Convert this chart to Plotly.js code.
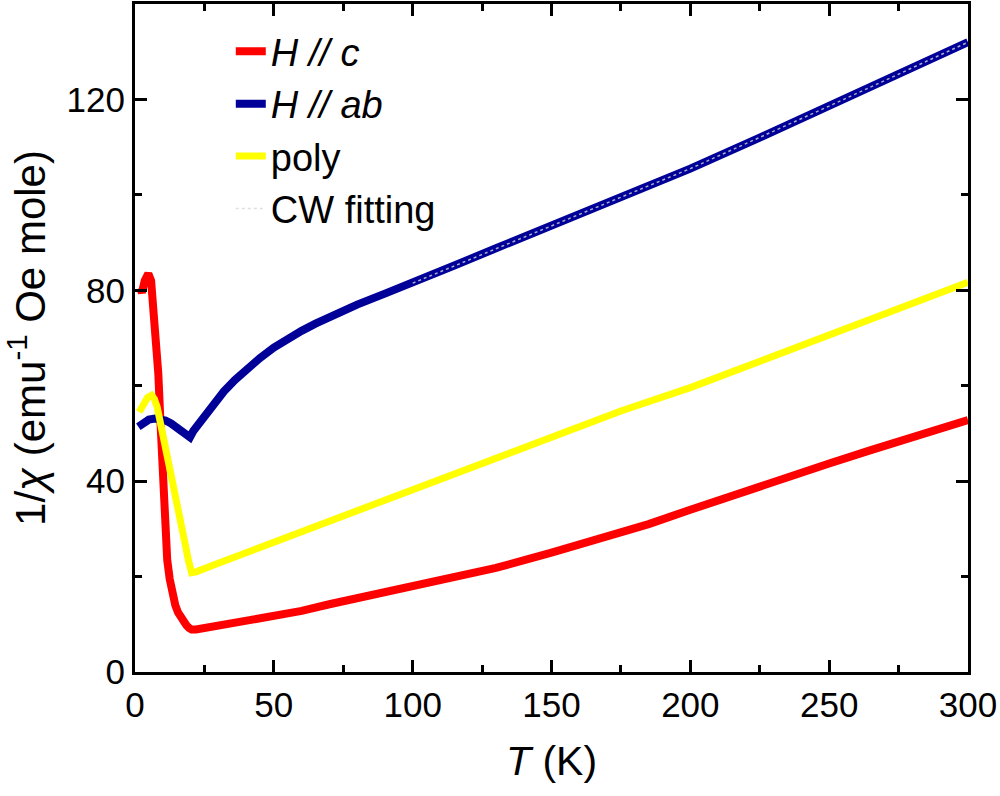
<!DOCTYPE html>
<html>
<head>
<meta charset="utf-8">
<script src="https://cdn.plot.ly/plotly-3.0.1.min.js"></script>
<style>html,body{margin:0;padding:0;background:#fff;}#chart{width:1000px;height:796px;}</style>
</head>
<body>
<div id="chart"></div>
<script>
// H // c
var tC = [1.8, 2.5, 3.5, 4.8, 5.8, 6.6, 7.5, 8.4, 9.2, 10.0, 10.8, 11.6, 12.5, 13.5, 14.5, 15.5, 16.5, 17.5, 18.5, 19.5, 20.4, 22, 25, 30, 40, 50, 60, 70, 80, 90, 100, 115, 130, 150, 170, 185, 200, 215, 230, 250, 265, 280, 290, 300];
var vC = [80.5, 79.5, 82, 83.5, 82, 76.5, 69, 62.5, 52, 40, 30, 23.5, 19.5, 16.2, 14.0, 12.5, 11.4, 10.5, 9.8, 9.2, 8.9, 8.9, 9.2, 9.8, 10.9, 11.8, 12.8, 14.2, 15.4, 16.7, 18.0, 19.8, 21.8, 25.0, 28.3, 31.0, 34.0, 37.0, 40.0, 43.7, 46.5, 49.3, 51.0, 52.8];
// H // ab
var tAB = [1.2, 3, 5, 7.2, 9, 11, 13, 15, 16.5, 18, 19.8, 21, 23, 25, 28, 32, 36, 40, 45, 50, 55, 60, 65, 70, 80, 90, 100, 115, 130, 150, 175, 200, 225, 250, 275, 300];
var vAB = [51.4, 52.3, 52.9, 53.1, 53.0, 52.7, 52.1, 51.3, 50.6, 49.9, 49.2, 50.5, 52.0, 53.5, 56, 58.8, 61.2, 63.4, 65.8, 68.0, 69.9, 71.5, 73.0, 74.4, 77.0, 79.3, 81.5, 85.2, 88.8, 93.5, 99.5, 105.5, 112.0, 118.6, 125.3, 132.0];
// poly
var tP = [1.5, 3, 4.5, 6, 7, 8, 9, 10.5, 12, 13.5, 15, 16.5, 18, 19.2, 20.4, 22, 25, 30, 40, 50, 60, 70, 80, 100, 125, 150, 175, 200, 225, 250, 275, 300];
var vP = [54.5, 56, 57.5, 58, 57.2, 55.5, 52.8, 48.5, 44.5, 40, 35.5, 31.5, 27, 23.5, 20.8, 21.0, 21.6, 22.8, 25.0, 27.2, 29.4, 31.6, 33.8, 38.2, 43.7, 49.2, 54.7, 59.6, 65.1, 70.6, 76.1, 81.7];
// CW fitting
var tCW = [100, 150, 200, 250, 300];
var vCW = [81.5, 93.5, 105.5, 118.6, 132.0];

var FONT = 'Arial, "Liberation Sans", sans-serif';

var traces = [
  {x: tC, y: vC, type: 'scatter', mode: 'lines', name: '<i>H // c</i>', line: {color: '#ff0000', width: 8}},
  {x: tAB, y: vAB, type: 'scatter', mode: 'lines', name: '<i>H // ab</i>', line: {color: '#000099', width: 8}},
  {x: tP, y: vP, type: 'scatter', mode: 'lines', name: 'poly', line: {color: '#ffff00', width: 7}},
  {x: tCW, y: vCW, type: 'scatter', mode: 'lines', name: 'CW fitting', line: {color: 'rgba(215,215,215,0.8)', width: 1.5, dash: 'dot'}}
];

var axisCommon = {
  showline: true, linecolor: '#000', linewidth: 3, mirror: 'allticks',
  ticks: 'inside', ticklen: 12, tickwidth: 3, tickcolor: '#000',
  showgrid: false, zeroline: false,
  tickfont: {family: FONT, size: 35, color: '#000'}
};

var layout = {
  width: 1000, height: 796,
  margin: {l: 135, r: 32, t: 4, b: 124},
  paper_bgcolor: '#fff', plot_bgcolor: '#fff',
  showlegend: true,
  legend: {x: 0.115, y: 0.976, xanchor: 'left', yanchor: 'top', bgcolor: 'rgba(0,0,0,0)',
           font: {family: FONT, size: 38, color: '#000'}, tracegroupgap: 0},
  xaxis: Object.assign({}, axisCommon, {
    range: [0, 300], tickvals: [0, 50, 100, 150, 200, 250, 300],
    minor: {ticks: 'inside', ticklen: 7, tickwidth: 3, tickcolor: '#000', dtick: 25, tick0: 0},
    title: {text: '<i>T</i> (K)', font: {family: FONT, size: 41, color: '#000'}, standoff: 24}
  }),
  yaxis: Object.assign({}, axisCommon, {
    range: [0, 140], tickvals: [0, 40, 80, 120],
    minor: {ticks: 'inside', ticklen: 7, tickwidth: 3, tickcolor: '#000', dtick: 20, tick0: 0},
    title: {text: '1/<i>χ</i> (emu<sup>-1</sup> Oe mole)', font: {family: FONT, size: 42, color: '#000'}, standoff: 12}
  })
};

Plotly.newPlot('chart', traces, layout, {displayModeBar: false, staticPlot: true});
</script>
</body>
</html>
